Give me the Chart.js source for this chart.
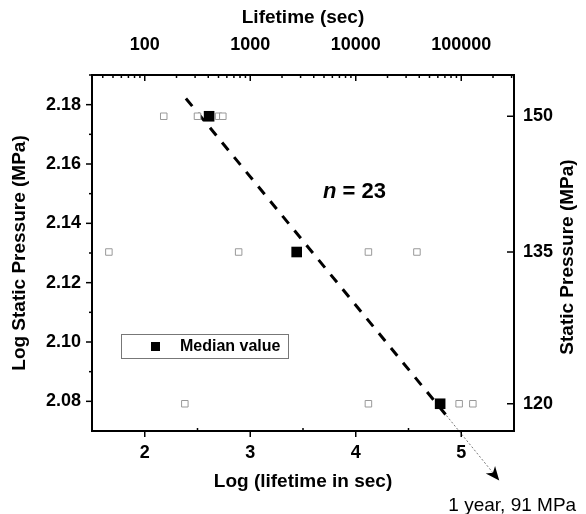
<!DOCTYPE html>
<html>
<head>
<meta charset="utf-8">
<script src="https://cdn.jsdelivr.net/npm/chart.js@4/dist/chart.umd.min.js"></script>
<style>
html,body{margin:0;padding:0;background:#fff;}
#wrap{width:586px;height:514px;position:relative;}
</style>
</head>
<body>
<div id="wrap"><canvas id="c"></canvas></div>
<script>
// ---- data ----
const pressureMPa = [150, 135, 120];
const lifetimeLogAt150 = [2.18, 2.50, 2.70, 2.74];
const lifetimeLogAt135 = [1.66, 2.89, 4.12, 4.58];
const lifetimeLogAt120 = [2.38, 4.12, 4.98, 5.11];
const medianLifetimeLog = [2.61, 3.44, 4.80];
const trendX = [2.39, 4.86];
const trendY = [2.1821, 2.0752];
const extrapX = [4.86, 5.36];
const extrapY = [2.0752, 2.0533];
// ---- axis ticks ----
const xTickValues = [2, 3, 4, 5];
const topTickLabels = ['100', '1000', '10000', '100000'];
const yTickValues = [2.08, 2.10, 2.12, 2.14, 2.16, 2.18];
const rightTickLabels = ['150', '135', '120'];
const nLabel = 23;
const noteText = '1 year, 91 MPa';

const FONT = 'Liberation Sans, Arial, sans-serif';
const logP = pressureMPa.map(p => Math.log10(p));

function rowPoints(xs, y){ return xs.map(x => ({x, y})); }
const openPts = [].concat(
  rowPoints(lifetimeLogAt150, logP[0]),
  rowPoints(lifetimeLogAt135, logP[1]),
  rowPoints(lifetimeLogAt120, logP[2])
);
const medianPts = medianLifetimeLog.map((x, i) => ({x, y: logP[i]}));
const trendPts = trendX.map((x, i) => ({x, y: trendY[i]}));
const extrapPts = extrapX.map((x, i) => ({x, y: extrapY[i]}));

const xMinor = [1.5, 2.5, 3.5, 4.5, 5.5];
const yMinor = [2.09, 2.11, 2.13, 2.15, 2.17, 2.19];
const topMinor = [];
for (let d = 1; d <= 5; d++) for (let k = 2; k <= 9; k++) {
  const v = d + Math.log10(k);
  if (v > 1.5 && v < 5.5) topMinor.push(v);
}

const overlay = {
  id: 'overlay',
  afterDraw(chart) {
    const {ctx, chartArea: a, scales} = chart;
    ctx.save();
    ctx.strokeStyle = '#000';
    ctx.lineWidth = 2;
    ctx.strokeRect(a.left, a.top, a.right - a.left, a.bottom - a.top);
    ctx.lineWidth = 1.5;
    const seg = (x1, y1, x2, y2) => { ctx.beginPath(); ctx.moveTo(x1, y1); ctx.lineTo(x2, y2); ctx.stroke(); };
    // bottom ticks (outward)
    xTickValues.forEach(v => { const p = scales.x.getPixelForValue(v); seg(p, a.bottom, p, a.bottom + 6); });
    xMinor.forEach(v => { const p = scales.x.getPixelForValue(v); seg(p, a.bottom - 3, p, a.bottom); });
    // top ticks (inward)
    xTickValues.forEach(v => { const p = scales.x2.getPixelForValue(v); seg(p, a.top, p, a.top + 6); });
    topMinor.forEach(v => { const p = scales.x2.getPixelForValue(v); seg(p, a.top, p, a.top + 3); });
    // left ticks (outward)
    yTickValues.forEach(v => { const p = scales.y.getPixelForValue(v); seg(a.left - 6, p, a.left, p); });
    yMinor.forEach(v => { const p = scales.y.getPixelForValue(v); seg(a.left - 3, p, a.left, p); });
    // right ticks (inward)
    logP.forEach(v => { const p = scales.y2.getPixelForValue(v); seg(a.right - 7, p, a.right, p); });

    // arrow head at end of extrapolation
    const n = extrapPts.length;
    const tx = scales.x.getPixelForValue(extrapPts[n - 1].x), ty = scales.y.getPixelForValue(extrapPts[n - 1].y);
    const sx = scales.x.getPixelForValue(extrapPts[n - 2].x), sy = scales.y.getPixelForValue(extrapPts[n - 2].y);
    const ang = Math.atan2(ty - sy, tx - sx);
    ctx.save();
    ctx.translate(tx, ty); ctx.rotate(ang);
    ctx.fillStyle = '#000';
    ctx.beginPath();
    ctx.moveTo(0, 0); ctx.lineTo(-14, -6); ctx.lineTo(-10, 0); ctx.lineTo(-14, 6); ctx.closePath();
    ctx.fill();
    ctx.restore();
    ctx.fillStyle = '#000';
    ctx.font = '19px ' + FONT;
    ctx.textAlign = 'center'; ctx.textBaseline = 'middle';
    ctx.fillText(noteText, tx + 13, ty + 25);

    // n = 23
    ctx.textBaseline = 'middle'; ctx.textAlign = 'left';
    const nx = a.left + 231, ny = a.top + 117;
    ctx.font = 'italic bold 22px ' + FONT;
    ctx.fillText('n', nx, ny);
    const w = ctx.measureText('n').width;
    ctx.font = 'bold 22px ' + FONT;
    ctx.fillText(' = ' + nLabel, nx + w, ny);

    // legend box
    const lx = a.left + 29, ly = a.top + 259, lw = 167, lh = 24;
    ctx.strokeStyle = '#777'; ctx.lineWidth = 1;
    ctx.strokeRect(lx + 0.5, ly + 0.5, lw, lh);
    ctx.fillStyle = '#000';
    ctx.fillRect(lx + 30, ly + 8, 9, 9);
    ctx.font = 'bold 16px ' + FONT;
    ctx.fillText('Median value', lx + 59, ly + 13);

    // right title (reads bottom to top)
    ctx.save();
    ctx.translate(568, (a.top + a.bottom) / 2 + 4);
    ctx.rotate(-Math.PI / 2);
    ctx.textAlign = 'center'; ctx.textBaseline = 'middle';
    ctx.font = 'bold 19px ' + FONT;
    ctx.fillText('Static Pressure (MPa)', 0, 0);
    ctx.restore();
    ctx.restore();
  }
};

const tickFont = {family: FONT, size: 18, weight: 'bold'};
const titleFont = {family: FONT, size: 19, weight: 'bold'};
const noGrid = {display: false, drawTicks: false};

new Chart(document.getElementById('c'), {
  type: 'scatter',
  data: {
    datasets: [
      {label: 'Median value', data: medianPts, pointStyle: 'rect', pointRadius: 7.5, pointHoverRadius: 7.5,
       backgroundColor: '#000', borderColor: '#000', borderWidth: 0, order: 0},
      {label: 'samples', data: openPts, pointStyle: 'rect', pointRadius: 4.6, pointHoverRadius: 4.6,
       backgroundColor: '#fff', borderColor: '#999', borderWidth: 1, order: 1},
      {type: 'line', label: 'fit', data: trendPts, showLine: true, pointRadius: 0, borderColor: '#000',
       borderWidth: 3, borderDash: [10, 9], fill: false, order: 2},
      {type: 'line', label: 'extrap', data: extrapPts, showLine: true, pointRadius: 0, borderColor: '#777',
       borderWidth: 1, borderDash: [2, 2], fill: false, clip: false, order: 3}
    ]
  },
  options: {
    responsive: true, maintainAspectRatio: false, animation: false,
    layout: {padding: 0},
    plugins: {legend: {display: false}, tooltip: {enabled: false}},
    scales: {
      x: {type: 'linear', position: 'bottom', min: 1.5, max: 5.5,
        afterBuildTicks: s => { s.ticks = xTickValues.map(v => ({value: v})); },
        ticks: {font: tickFont, color: '#000', padding: 11, autoSkip: false, maxRotation: 0,
                callback: v => String(v)},
        grid: noGrid, border: {display: false},
        title: {display: true, text: 'Log (lifetime in sec)', font: titleFont, color: '#000', padding: {top: 0, bottom: 21}},
        afterFit: s => { s.height = 83; }},
      x2: {type: 'linear', position: 'top', min: 1.5, max: 5.5,
        afterBuildTicks: s => { s.ticks = xTickValues.map(v => ({value: v})); },
        ticks: {font: tickFont, color: '#000', padding: 19, autoSkip: false, maxRotation: 0,
                callback: (v, i) => topTickLabels[i]},
        grid: noGrid, border: {display: false},
        title: {display: true, text: 'Lifetime (sec)', font: titleFont, color: '#000', padding: {top: 6, bottom: 0}},
        afterFit: s => { s.height = 75; }},
      y: {type: 'linear', position: 'left', min: 2.07, max: 2.19,
        afterBuildTicks: s => { s.ticks = yTickValues.map(v => ({value: v})); },
        ticks: {font: tickFont, color: '#000', padding: 11, autoSkip: false,
                callback: v => Number(v).toFixed(2)},
        grid: noGrid, border: {display: false},
        title: {display: true, text: 'Log Static Pressure (MPa)', font: titleFont, color: '#000', padding: {top: 8, bottom: 0}},
        afterFit: s => { s.width = 92; }},
      y2: {type: 'linear', position: 'right', min: 2.07, max: 2.19,
        afterBuildTicks: s => { s.ticks = logP.map(v => ({value: v})); },
        ticks: {font: tickFont, color: '#000', padding: 9, autoSkip: false,
                callback: (v, i) => rightTickLabels[i]},
        grid: noGrid, border: {display: false},
        afterFit: s => { s.width = 72; }}
    }
  },
  plugins: [overlay]
});
</script>
</body>
</html>
